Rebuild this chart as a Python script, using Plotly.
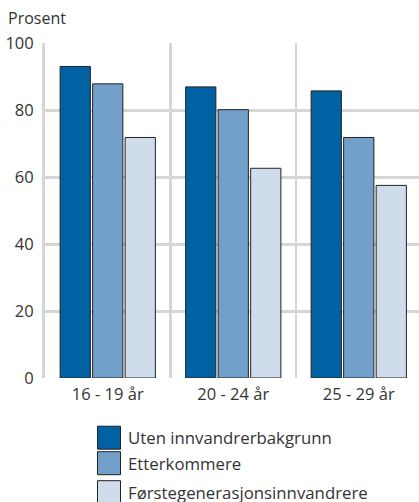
import plotly.graph_objects as go

categories = ["16 - 19 år", "20 - 24 år", "25 - 29 år"]
series_names = ["Uten innvandrerbakgrunn", "Etterkommere", "Førstegenerasjonsinnvandrere"]
uten = [93.0, 86.9, 85.7]
etterkommere = [87.8, 80.1, 71.8]
forstegen = [71.8, 62.6, 57.5]
y_ticks = [0, 20, 40, 60, 80, 100]

colors = ["#0062a3", "#72a0ca", "#cfdcec"]
values = [uten, etterkommere, forstegen]

W, H = 419, 502
L, T, B = 45, 43.3, 378.3
R = 0

FONT = "Open Sans"
TXT = "#333333"
GRID = "#d6d6d6"

xpos = list(range(len(categories)))
boundaries = [i - 0.5 for i in xpos]

fig = go.Figure()
for name, vals, col in zip(series_names, values, colors):
    fig.add_trace(go.Bar(
        x=xpos, y=vals, name=name,
        marker=dict(color=col, line=dict(color="#222222", width=1)),
        showlegend=False, hoverinfo="skip",
    ))

fig.update_layout(
    width=W, height=H,
    margin=dict(l=L, r=R, t=T, b=H - B, pad=0),
    barmode="group", bargap=0.223, bargroupgap=0.07,
    plot_bgcolor="white", paper_bgcolor="white",
    font=dict(family=FONT, size=16, color=TXT),
    hovermode=False, dragmode=False,
)
fig.update_xaxes(
    range=[-0.5, 2.48], tickmode="array", tickvals=xpos, ticktext=categories,
    showgrid=False, showline=False, ticks="", zeroline=False, showspikes=False,
    minor=dict(tickmode="array", tickvals=boundaries, showgrid=True,
               gridcolor=GRID, gridwidth=2.5, ticks=""),
    tickfont=dict(family=FONT, size=16.5, color=TXT),
    ticklabelstandoff=4,
)
fig.update_yaxes(
    range=[0, 100], tickvals=y_ticks,
    showgrid=True, gridcolor=GRID, gridwidth=3,
    showline=True, linecolor=GRID, linewidth=3,
    zeroline=False, ticks="", showspikes=False,
    tickfont=dict(family=FONT, size=16.5, color=TXT),
    ticklabelstandoff=5,
)

ph = B - T
pw = W - L - R

def px_x(x):
    return (x - L) / pw

def px_y(y):
    return (B - y) / ph

# y-axis title
fig.add_annotation(text="Prosent", xref="paper", yref="paper",
                   x=px_x(6), y=px_y(18), xanchor="left", yanchor="middle",
                   showarrow=False, font=dict(family=FONT, size=16, color=TXT))

# custom legend
legend_tops = [426.5, 452.0, 481.0]
sq = 23
for name, col, top in zip(series_names, colors, legend_tops):
    fig.add_shape(type="rect", xref="paper", yref="paper",
                  x0=px_x(97.5), x1=px_x(97.5 + sq), y0=px_y(top), y1=px_y(top + sq),
                  fillcolor=col, line=dict(color="#222222", width=1), layer="above")
    fig.add_annotation(text=name, xref="paper", yref="paper",
                       x=px_x(126), y=px_y(top + sq / 2), xanchor="left", yanchor="middle",
                       showarrow=False, font=dict(family=FONT, size=16.8, color=TXT))

fig.write_html(
    "out.html",
    config={"staticPlot": True, "displayModeBar": False},
    post_script=(
        "document.body.style.margin='0';"
        "document.documentElement.style.overflow='hidden';"
        "document.body.style.overflow='hidden';"
    ),
)
